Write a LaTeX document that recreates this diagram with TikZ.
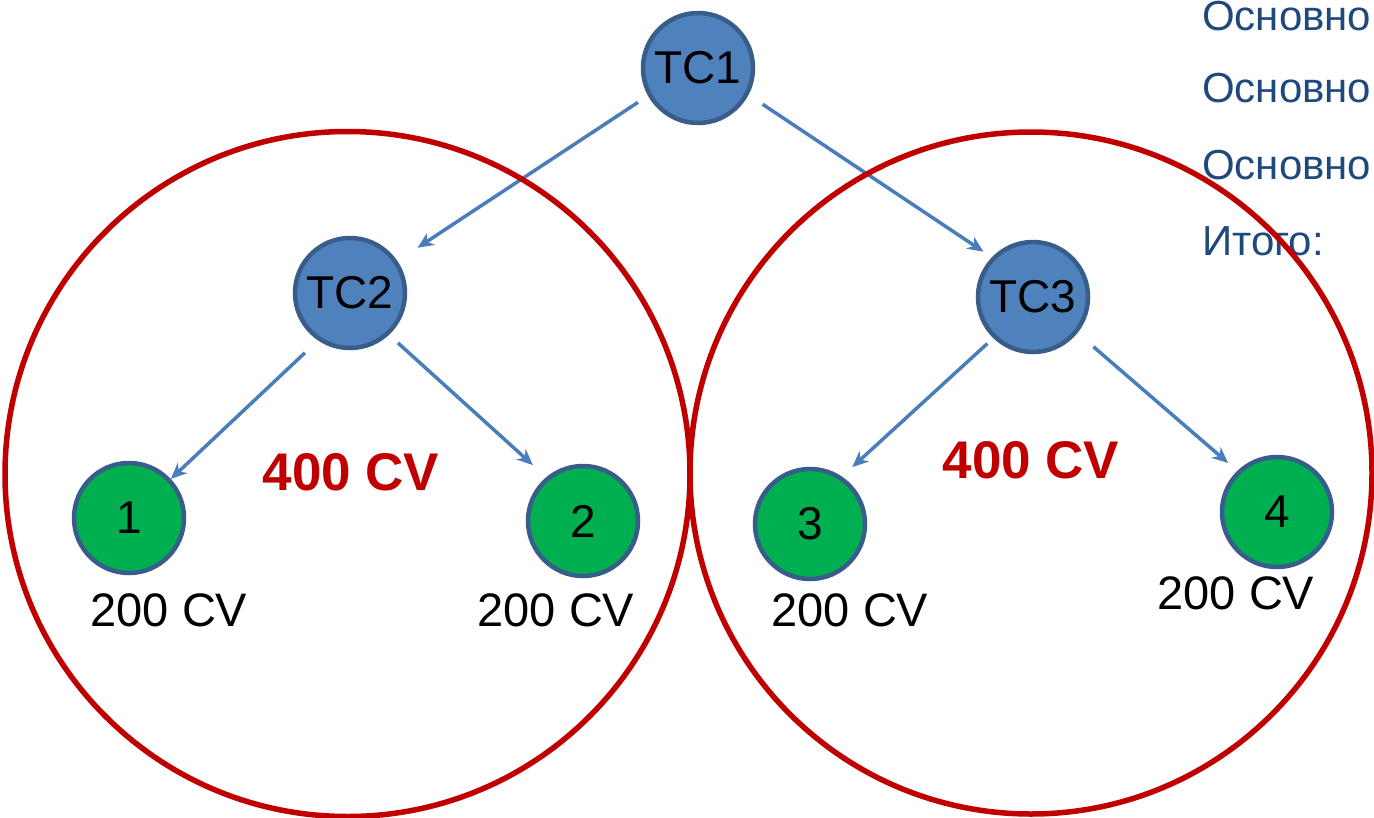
\documentclass[tikz,border=0pt]{standalone}
\usepackage{fontspec}
\setmainfont{Liberation Sans}
\usetikzlibrary{arrows.meta}
\definecolor{nodeblue}{HTML}{4F81BD}
\definecolor{nodeedge}{HTML}{385D8A}
\definecolor{nodegreen}{HTML}{00B050}
\definecolor{ringred}{HTML}{C00000}
\definecolor{arrowblue}{HTML}{4A7EBB}
\definecolor{textblue}{HTML}{1F497D}
\tikzset{
  tc/.style={circle, draw=nodeedge, line width=4.5pt, fill=nodeblue, minimum size=110pt, inner sep=0pt, font=\fontsize{46}{50}\selectfont},
  leaf/.style={circle, draw=nodeedge, line width=4.5pt, fill=nodegreen, minimum size=110pt, inner sep=0pt, font=\fontsize{46}{50}\selectfont},
  arr/.style={draw=arrowblue, line width=3.5pt, -{Stealth[length=16pt,width=14pt,inset=5pt]}},
  ring/.style={draw=ringred, line width=5.5pt},
  sumlabel/.style={text=ringred, font=\fontsize{53}{58}\selectfont\bfseries},
  cvlabel/.style={font=\fontsize{47}{52}\selectfont},
  sidetext/.style={text=textblue, anchor=base west, font=\fontsize{42}{46}\selectfont, inner sep=0pt}
}
\begin{document}
\begin{tikzpicture}[x=1pt,y=-1pt]
\useasboundingbox (0,0) rectangle (1374,817);
\clip (0,0) rectangle (1374,817);
% side text
\node[sidetext] (s1) at (1202,30) {Основно};
\node[sidetext] (s2) at (1202,102) {Основно};
\node[sidetext] (s3) at (1202,179) {Основно};
\node[sidetext] (s4) at (1202,255) {Итого:};
% nodes
\node[tc] (tc1) at (698,68) {TC1};
\node[tc] (tc2) at (350,293) {TC2};
\node[tc] (tc3) at (1033,297) {TC3};
\node[leaf] (n1) at (129,518) {1};
\node[leaf] (n2) at (583,521) {2};
\node[leaf] (n3) at (810,524) {3};
\node[leaf] (n4) at (1277,512) {4};
% arrows
\draw[arr, shorten <=12pt, shorten >=24pt] (tc1.209) -- (tc2.34);
\draw[arr, shorten <=17pt, shorten >=10pt] (tc1.332) -- (tc3.136);
\draw[arr, shorten <=18pt, shorten >=0pt] (tc2.236) -- (n1.43);
\draw[arr, shorten <=12pt, shorten >=18pt] (tc2.313) -- (n2.130);
\draw[arr, shorten <=8pt, shorten >=14pt] (tc3.226) -- (n3.56);
\draw[arr, shorten <=21pt, shorten >=12pt] (tc3.321) -- (n4.134);
% rings
\draw[ring] (347.5,474) circle[radius=342.5pt];
\draw[ring] (1031,473) circle[radius=341pt];
% labels
\node[sumlabel] (sum1) at (351,472) {400 CV};
\node[sumlabel] (sum2) at (1031,460) {400 CV};
\node[cvlabel] (c1) at (169,610) {200 CV};
\node[cvlabel] (c2) at (556,610) {200 CV};
\node[cvlabel] (c3) at (850,610) {200 CV};
\node[cvlabel] (c4) at (1236,593) {200 CV};
\end{tikzpicture}
\end{document}
